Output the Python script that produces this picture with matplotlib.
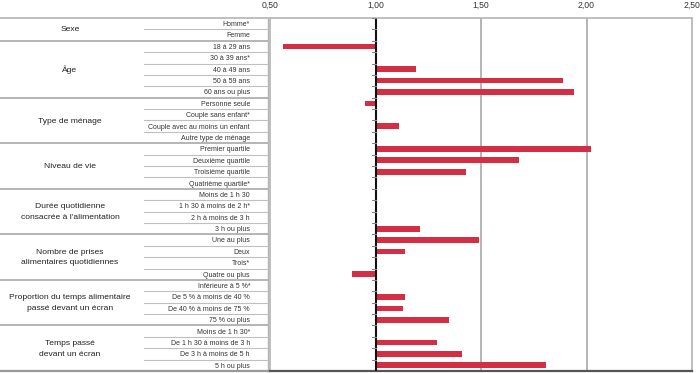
import matplotlib
matplotlib.use('Agg')
from matplotlib import pyplot as plt
from matplotlib import transforms
import numpy as np

plt.rcParams['font.family'] = ['Liberation Sans Narrow', 'Liberation Sans', 'DejaVu Sans']

groupes = ['Sexe', 'Âge', 'Type de ménage', 'Niveau de vie',
           'Durée quotidienne\nconsacrée à l\'alimentation',
           'Nombre de prises\nalimentaires quotidiennes',
           'Proportion du temps alimentaire\npassé devant un écran',
           'Temps passé\ndevant un écran']

modalites = [
    ['Homme*', 'Femme'],
    ['18 à 29 ans', '30 à 39 ans*', '40 à 49 ans', '50 à 59 ans', '60 ans ou plus'],
    ['Personne seule', 'Couple sans enfant*', 'Couple avec au moins un enfant', 'Autre type de ménage'],
    ['Premier quartile', 'Deuxième quartile', 'Troisième quartile', 'Quatrième quartile*'],
    ['Moins de 1 h 30', '1 h 30 à moins de 2 h*', '2 h à moins de 3 h', '3 h ou plus'],
    ['Une au plus', 'Deux', 'Trois*', 'Quatre ou plus'],
    ['Inférieure à 5 %*', 'De 5 % à moins de 40 %', 'De 40 % à moins de 75 %', '75 % ou plus'],
    ['Moins de 1 h 30*', 'De 1 h 30 à moins de 3 h', 'De 3 h à moins de 5 h', '5 h ou plus'],
]

# odds ratios (1 = référence ou non significatif)
valeurs = [
    [1.00, 1.00],
    [0.56, 1.00, 1.19, 1.89, 1.94],
    [0.95, 1.00, 1.11, 1.00],
    [2.02, 1.68, 1.43, 1.00],
    [1.00, 1.00, 1.00, 1.21],
    [1.49, 1.14, 1.00, 0.89],
    [1.00, 1.14, 1.13, 1.35],
    [1.00, 1.29, 1.41, 1.81],
]

xticks = [0.5, 1.0, 1.5, 2.0, 2.5]
xtick_labels = ['0,50', '1,00', '1,50', '2,00', '2,50']

labels = [m for g in modalites for m in g]
vals = np.array([v for g in valeurs for v in g])
n = len(labels)
y = np.arange(n)

W, H = 700, 373
fig = plt.figure(figsize=(W / 100, H / 100), dpi=100)
ax = fig.add_axes([270 / W, 1 - 371 / H, (692 - 270) / W, (371 - 18) / H])

ax.barh(y, vals - 1, left=1, height=0.5, color='#d42e45', zorder=3)
ax.set_ylim(n - 0.5, -0.5)
ax.set_xlim(0.5, 2.5)

for xv in [1.5, 2.0]:
    ax.axvline(xv, color='#b4b4b4', lw=1.4, zorder=1)
ax.axvline(1.0, color='#111111', lw=1.5, zorder=4)
# petits tirets sur l'axe 1,00
for b in np.arange(n + 1) - 0.5:
    ax.plot([0.985, 1.0], [b, b], color='#888888', lw=0.8, zorder=4)

ax.xaxis.tick_top()
ax.set_xticks(xticks)
ax.set_xticklabels(xtick_labels, fontsize=6.2, color='#333333')
ax.tick_params(axis='x', length=0, pad=6)
ax.set_yticks([])
for s in ['top', 'left', 'right']:
    ax.spines[s].set_color('#b4b4b4')
    ax.spines[s].set_linewidth(1.2)
ax.spines['bottom'].set_color('#555555')
ax.spines['bottom'].set_linewidth(1.6)

# tableau de gauche
tr = transforms.blended_transform_factory(fig.transFigure, ax.transData)
x_tab_l = 0 / W
x_row_l = 144 / W
x_tab_r = 268 / W
ax.plot([x_tab_r, x_tab_r], [-0.5, n - 0.5], transform=tr, color='#b4b4b4', lw=1.0, clip_on=False)
ax.plot([x_tab_l, x_tab_r], [-0.5, -0.5], transform=tr, color='#b4b4b4', lw=1.2, clip_on=False)
ax.plot([x_tab_l, x_tab_r], [n - 0.5, n - 0.5], transform=tr, color='#999999', lw=1.6, clip_on=False)

start = 0
for g, mods in zip(groupes, modalites):
    k = len(mods)
    for i in range(k):
        ax.text(250 / W, start + i + 0.08, mods[i], transform=tr, ha='right', va='center',
                fontsize=5.0, color='#333333', clip_on=False)
        if i < k - 1:
            ax.plot([x_row_l, x_tab_r], [start + i + 0.5] * 2, transform=tr,
                    color='#c0c0c0', lw=0.8, clip_on=False)
    ax.text(70 / W, start + (k - 1) / 2 + 0.05, g, transform=tr, ha='center', va='center',
            fontsize=6.1, color='#222222', linespacing=1.7, clip_on=False)
    if start + k < n:
        ax.plot([x_tab_l, x_tab_r], [start + k - 0.5] * 2, transform=tr,
                color='#b4b4b4', lw=1.4, clip_on=False)
    start += k

fig.savefig('out.png', dpi=100)
